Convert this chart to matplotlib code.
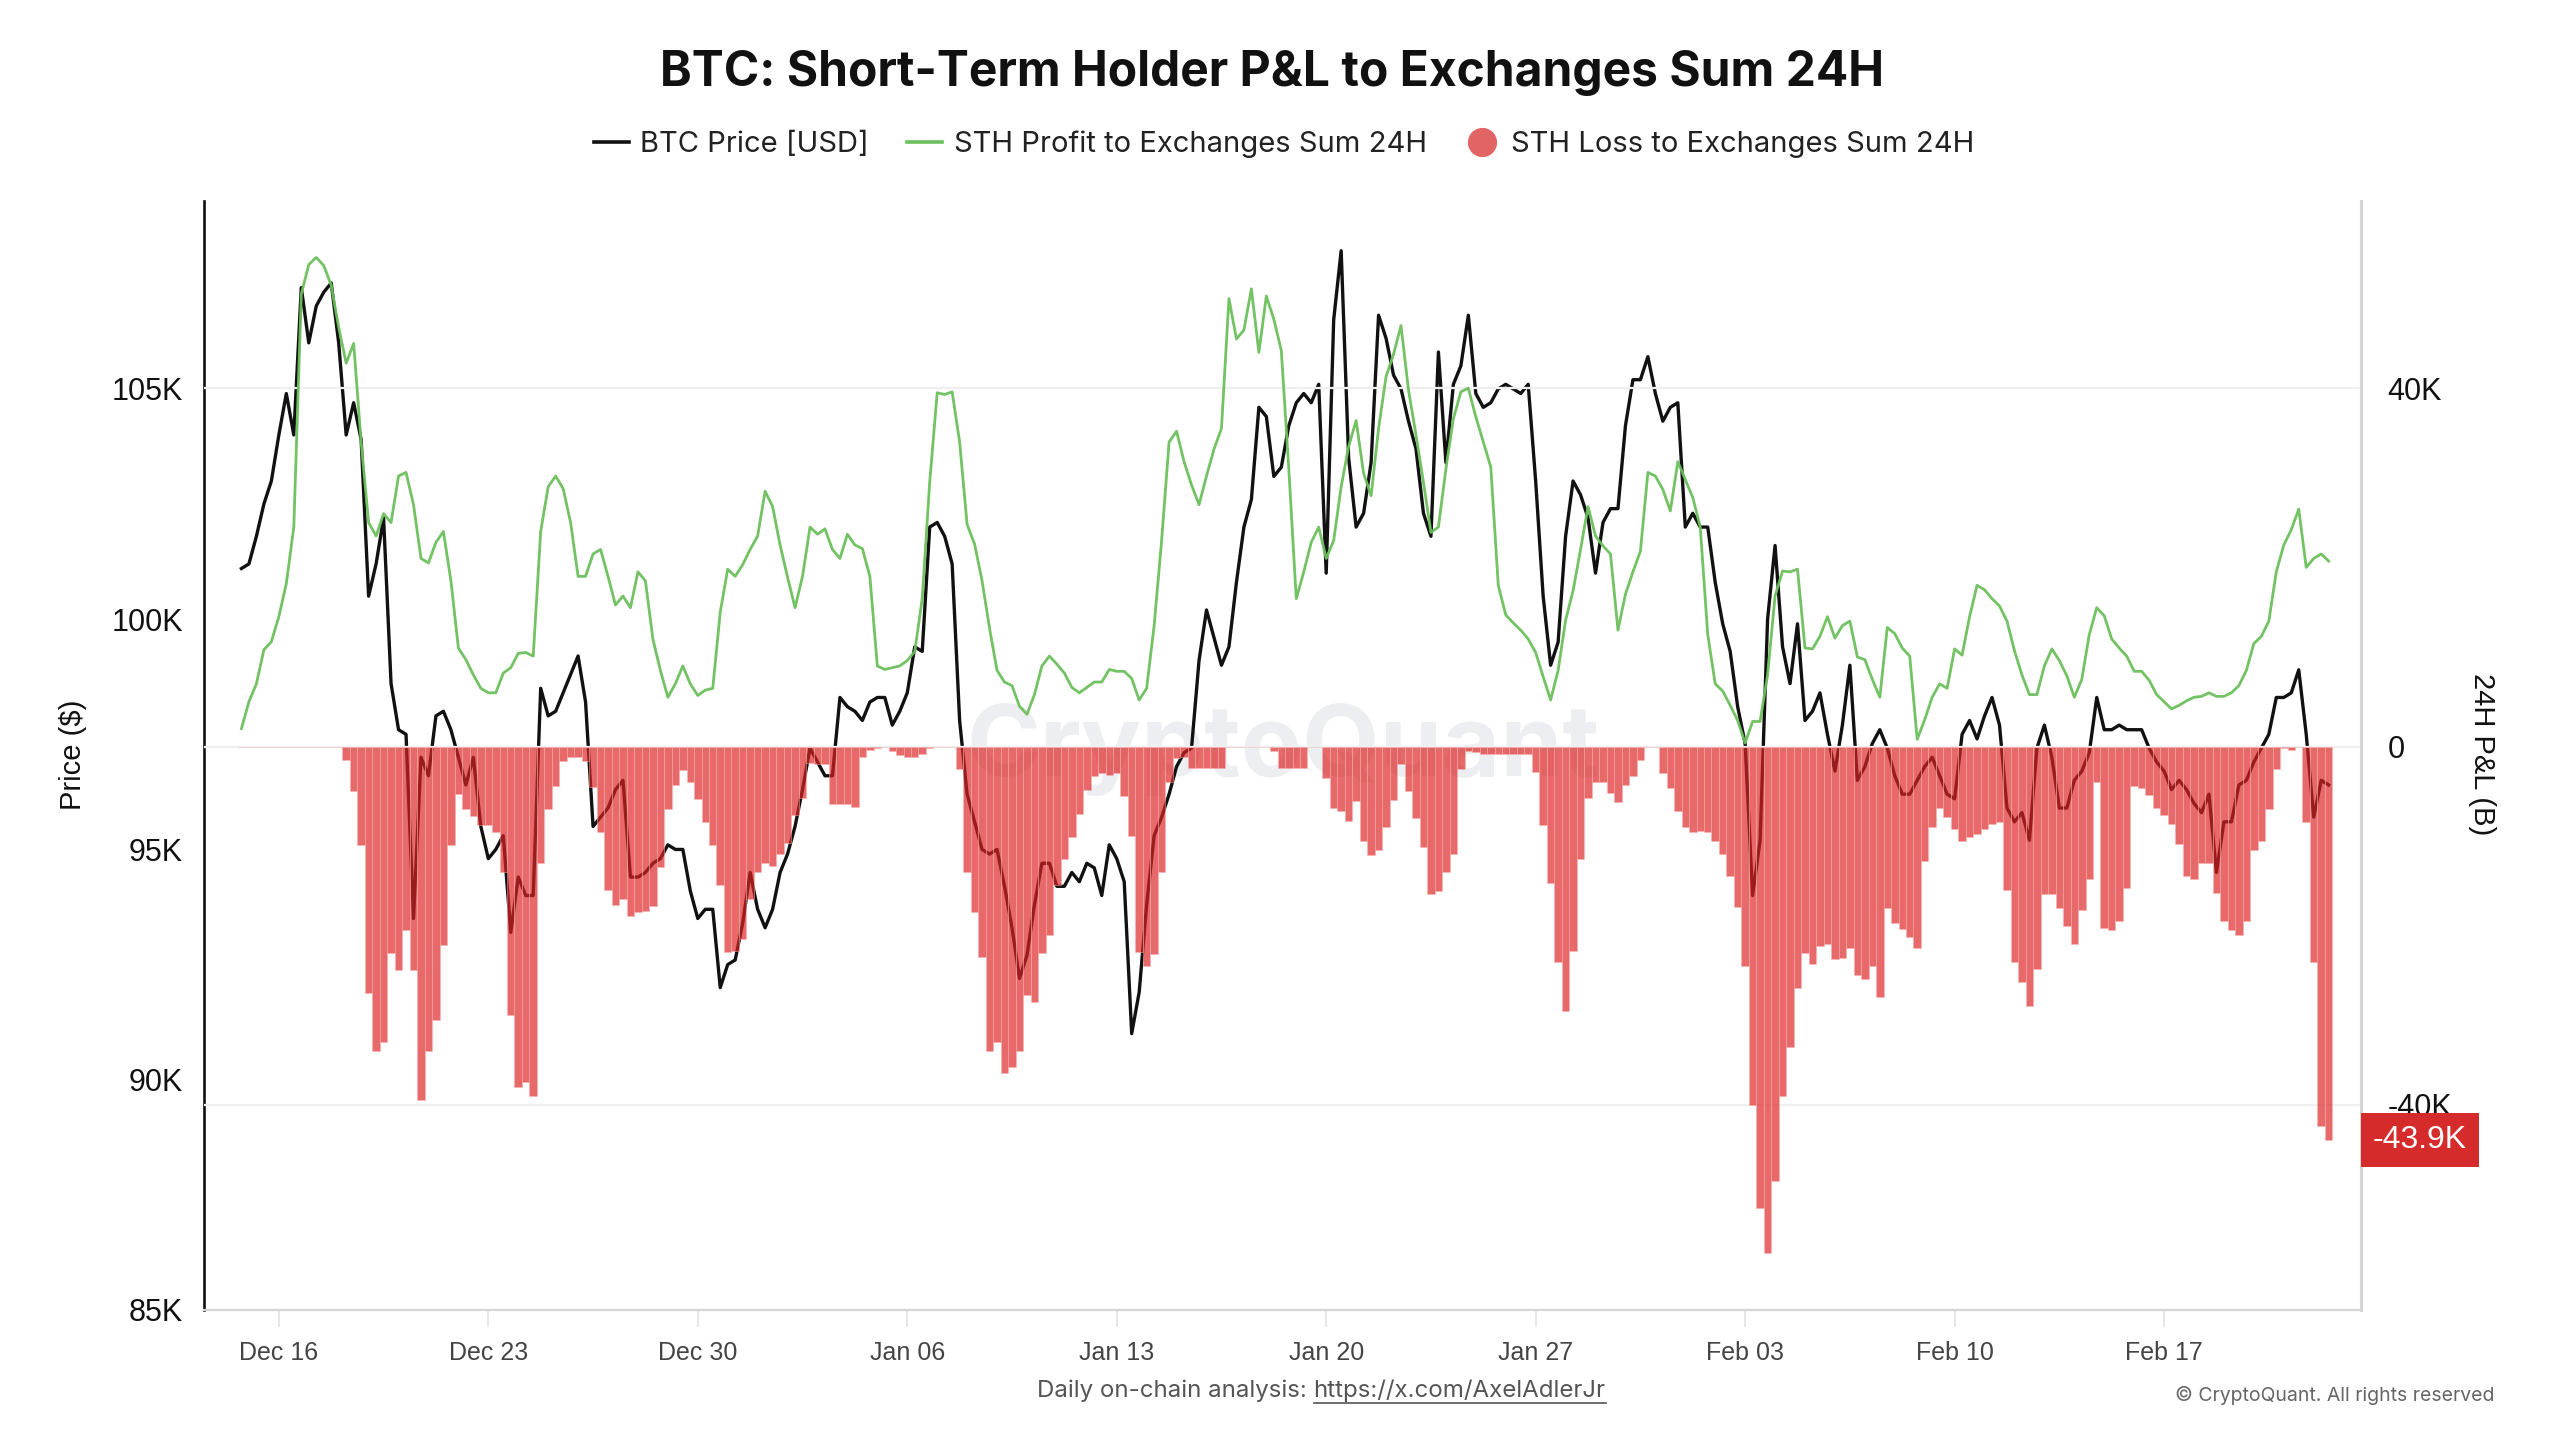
"""
BTC: Short-Term Holder P&L to Exchanges Sum 24H  (recreation)

Run:
    python3 plot.py   ->  out.png (2560x1440)
"""

import numpy as np
import pandas as pd
import matplotlib
import matplotlib.pyplot as plt
import matplotlib.dates as mdates
from matplotlib.lines import Line2D
from matplotlib.transforms import blended_transform_factory

matplotlib.use("Agg")

# ============================================================
# Data (6-hourly; values in thousands)
# ============================================================
START = "2024-12-14 18:00"
STEP = "6h"

price_k = [
    101.1, 101.2, 101.8, 102.5, 103.0, 104.0, 104.9, 104.0, 107.2, 106.0,
    106.8, 107.1, 107.3, 106.0, 104.0, 104.7, 103.9, 100.5, 101.2, 102.2,
    98.6, 97.6, 97.5, 93.5, 97.0, 96.6, 97.9, 98.0, 97.6, 97.0,
    96.4, 97.0, 95.5, 94.8, 95.0, 95.3, 93.2, 94.4, 94.0, 94.0,
    98.5, 97.9, 98.0, 98.4, 98.8, 99.2, 98.2, 95.5, 95.7, 95.9,
    96.3, 96.5, 94.4, 94.4, 94.5, 94.7, 94.8, 95.1, 95.0, 95.0,
    94.1, 93.5, 93.7, 93.7, 92.0, 92.5, 92.6, 93.4, 94.5, 93.7,
    93.3,
    93.7, 94.5, 94.9, 95.5, 96.3, 97.2, 96.9, 96.6, 96.6, 98.3,
    98.1, 98.0, 97.8, 98.2, 98.3, 98.3, 97.7, 98.0, 98.4, 99.4,
    99.3, 102.0, 102.1, 101.8, 101.2, 97.8, 96.2, 95.6, 95.0, 94.9,
    95.0, 94.2, 93.3, 92.2, 92.7, 93.8, 94.7, 94.7, 94.2, 94.2,
    94.5, 94.3, 94.7, 94.6, 94.0, 95.1, 94.8, 94.3, 91.0, 91.9,
    93.8, 95.3, 95.7, 96.2, 96.8, 97.1, 97.2, 99.1, 100.2, 99.6,
    99.0, 99.4, 100.8, 102.0, 102.6, 104.6, 104.4, 103.1, 103.3, 104.2,
    104.7,
    104.9, 104.7, 105.1, 101.0, 106.5, 108.0, 103.5, 102.0, 102.3, 103.4,
    106.6, 106.1, 105.3, 105.0, 104.3, 103.7, 102.3, 101.8, 105.8, 103.4,
    105.1, 105.5, 106.6, 104.9, 104.6, 104.7, 105.0, 105.1, 105.0, 104.9,
    105.1, 103.0, 100.5, 99.0, 99.5, 101.8, 103.0, 102.7, 102.2, 101.0,
    102.1, 102.4, 102.4, 104.2, 105.2, 105.2, 105.7, 104.9, 104.3, 104.6,
    104.7, 102.0, 102.3, 102.0, 102.0, 100.8, 99.9, 99.3, 98.1, 97.3,
    94.0, 95.2, 100.0, 101.6, 99.4, 98.6, 99.9, 97.8, 98.0, 98.4,
    97.5,
    96.7, 97.7, 99.0, 96.5, 96.8, 97.3, 97.6, 97.2, 96.6, 96.2,
    96.2, 96.5, 96.8, 97.0, 96.6, 96.2, 96.1, 97.5, 97.8, 97.4,
    97.9, 98.3, 97.7, 95.9, 95.6, 95.8, 95.2, 97.2, 97.7, 97.0,
    95.9, 95.9, 96.5, 96.7, 97.1, 98.3, 97.6, 97.6, 97.7, 97.6,
    97.6, 97.6, 97.2, 96.9, 96.7, 96.3, 96.5, 96.3, 96.0, 95.8,
    96.2, 94.5, 95.6, 95.6, 96.4, 96.5, 96.9, 97.2, 97.5, 98.3,
    98.3, 98.4, 98.9, 97.5, 95.7, 96.5, 96.4,
]

profit_k = [
    2.0, 5.0, 7.0, 10.8, 11.7, 14.5, 18.2, 24.5, 50.5, 53.8,
    54.6, 53.7, 51.5, 46.8, 42.8, 45.0, 34.0, 25.0, 23.5, 26.0,
    25.0, 30.2, 30.6, 27.0, 21.0, 20.5, 22.8, 24.0, 18.5, 11.0,
    9.7, 8.0, 6.5, 6.0, 6.0, 8.2, 8.8, 10.4, 10.5, 10.1,
    24.0, 29.0, 30.2, 28.8, 25.0, 19.0, 19.0, 21.5, 22.0, 19.0,
    15.8, 16.8, 15.5, 19.5, 18.5, 12.0, 8.5, 5.5, 7.0, 9.0,
    7.0, 5.7, 6.3, 6.5, 15.0, 19.8, 19.0, 20.3, 22.0, 23.5,
    28.5,
    26.8, 22.5, 18.9, 15.5, 19.0, 24.5, 23.7, 24.3, 22.0, 21.0,
    23.7, 22.5, 22.1, 19.0, 9.0, 8.6, 8.8, 9.0, 9.6, 10.6,
    16.5, 29.5, 39.5, 39.3, 39.6, 34.0, 24.8, 22.6, 18.5, 13.2,
    8.5, 7.2, 6.8, 4.5, 3.6, 5.8, 9.0, 10.1, 9.2, 8.2,
    6.6, 6.0, 6.6, 7.2, 7.2, 8.6, 8.4, 8.4, 7.6, 5.2,
    6.5, 13.5, 23.0, 34.0, 35.2, 31.8, 29.2, 27.0, 30.2, 33.2,
    35.5, 50.0, 45.5, 46.5, 51.1, 44.0, 50.3, 47.7, 44.2, 31.0,
    16.5,
    19.5, 22.8, 24.5, 21.0, 23.0, 29.0, 33.5, 36.4, 30.5, 28.0,
    35.5, 41.3, 43.8, 47.0, 39.8, 34.8, 29.5, 23.9, 24.5, 31.0,
    36.6, 39.6, 40.0, 36.8, 34.0, 31.2, 18.0, 14.7, 13.8, 13.0,
    12.0, 10.5, 7.8, 5.2, 8.5, 14.1, 17.4, 22.0, 26.8, 23.5,
    22.4, 21.5, 13.0, 17.0, 19.5, 21.8, 30.6, 30.2, 28.7, 26.3,
    31.8, 29.8, 27.8, 24.5, 12.5, 7.0, 6.2, 4.6, 2.9, 0.4,
    2.8, 2.8, 8.0, 16.8, 19.6, 19.5, 19.8, 11.0, 10.9, 12.3,
    14.5,
    12.1, 13.5, 14.0, 10.0, 9.7, 7.5, 5.5, 13.3, 12.6, 11.0,
    10.1, 0.8, 3.0, 5.5, 7.0, 6.5, 10.9, 10.2, 14.5, 18.0,
    17.5, 16.5, 15.7, 14.0, 10.7, 8.0, 5.8, 5.8, 9.0, 10.9,
    9.6, 7.9, 5.5, 7.5, 12.5, 15.5, 14.6, 12.0, 11.0, 10.1,
    8.4, 8.4, 7.4, 5.8, 5.0, 4.2, 4.6, 5.1, 5.5, 5.6,
    6.0, 5.6, 5.6, 6.0, 6.8, 8.5, 11.5, 12.3, 14.0, 19.5,
    22.5, 24.2, 26.5, 20.0, 21.0, 21.5, 20.7,
]

loss_k = [
    -0.1, -0.1, -0.1, -0.1, -0.1, -0.1, 0.0, 0.0, 0.0, 0.0,
    0.0, 0.0, 0.0, 0.0, -1.5, -5.0, -11.0, -27.5, -34.0, -33.0,
    -23.0, -25.0, -20.5, -25.0, -39.5, -34.0, -30.5, -22.1, -11.0, -5.3,
    -7.0, -7.8, -8.8, -8.8, -9.5, -14.0, -30.0, -38.0, -37.5, -39.0,
    -13.0, -7.0, -4.4, -1.6, -1.2, -1.2, -1.6, -4.5, -9.5, -16.0,
    -17.7, -17.0, -18.9, -18.5, -18.4, -17.8, -13.5, -7.0, -4.3, -2.6,
    -4.0, -5.9, -8.4, -11.0, -15.5, -22.9, -22.8, -21.5, -17.0, -14.0,
    -13.0,
    -13.3, -12.0, -10.8, -7.6, -5.8, -1.8, -2.0, -2.0, -6.4, -6.4,
    -6.4, -6.8, -1.2, -0.4, -0.2, 0.0, -0.5, -0.9, -1.2, -1.2,
    -0.8, -0.2, -0.1, 0.0, 0.0, -2.5, -14.0, -18.5, -23.5, -34.0,
    -33.0, -36.5, -35.8, -34.0, -27.7, -28.5, -23.0, -21.0, -15.5, -12.5,
    -10.1, -7.5, -4.8, -3.3, -2.9, -3.2, -3.0, -5.5, -10.0, -22.9,
    -24.5, -23.2, -14.0, -4.0, -1.3, -1.2, -2.4, -2.4, -2.4, -2.4,
    -2.4, 0.0, 0.0, 0.0, 0.0, 0.0, 0.0, -0.5, -2.4, -2.4,
    -2.4,
    -2.4, 0.0, 0.0, -3.5, -6.9, -7.2, -8.3, -6.1, -10.5, -12.1,
    -11.5, -9.0, -6.0, -2.0, -5.0, -8.0, -11.2, -16.5, -16.1, -14.0,
    -12.0, -2.5, -0.5, -0.6, -0.8, -0.8, -0.8, -0.8, -0.8, -0.8,
    -0.8, -2.8, -8.8, -15.2, -24.0, -29.5, -22.8, -12.5, -5.8, -4.0,
    -4.0, -5.2, -6.2, -4.3, -3.3, -1.5, 0.0, 0.0, -3.0, -4.6,
    -7.2, -9.0, -9.5, -9.4, -9.5, -10.5, -12.0, -14.5, -17.9, -24.5,
    -40.0, -51.5, -56.5, -48.5, -39.0, -33.5, -27.0, -23.0, -24.3, -22.3,
    -22.0,
    -23.7, -23.6, -22.5, -25.5, -26.0, -24.5, -28.0, -18.0, -19.7, -20.4,
    -21.3, -22.5, -12.8, -9.0, -6.9, -7.9, -9.2, -10.5, -10.1, -9.8,
    -9.2, -8.7, -8.4, -16.0, -24.0, -26.3, -29.0, -24.8, -16.5, -16.5,
    -18.0, -20.0, -22.0, -18.2, -14.8, -4.0, -20.3, -20.5, -19.5, -15.8,
    -4.4, -4.6, -5.4, -6.9, -7.6, -8.6, -10.9, -14.5, -14.8, -13.0,
    -13.0, -16.3, -19.5, -20.5, -21.0, -19.5, -11.6, -10.5, -7.0, -2.5,
    -0.2, -0.4, -0.1, -8.4, -24.0, -42.4, -43.9,
]

price_ticks = [85000, 90000, 95000, 100000, 105000]
price_tick_labels = ["85K", "90K", "95K", "100K", "105K"]
pnl_ticks = [-40000, 0, 40000]
pnl_tick_labels = ["-40K", "0", "40K"]
last_loss_label = "-43.9K"

# ============================================================
# Style
# ============================================================
C_PRICE = "#111111"
C_PROFIT = "#6bbf5c"
C_LOSS = "#dc2222"
C_LOSS_LEG = "#e36464"
C_BADGE = "#d52b2b"
C_GRID = "#efefef"
C_AXIS = "#d6d6d6"

plt.rcParams["font.family"] = ["Liberation Sans", "DejaVu Sans"]
TITLE_FONT = ["Inter", "DejaVu Sans"]


def main():
    times = pd.date_range(START, periods=len(price_k), freq=STEP)
    price = np.array(price_k) * 1000.0
    profit = np.array(profit_k) * 1000.0
    loss = np.array(loss_k) * 1000.0

    fig = plt.figure(figsize=(25.6, 14.4), dpi=100)
    ax1 = fig.add_axes([0.0797, 0.0903, 0.8426, 0.7701])
    ax2 = ax1.twinx()

    # --- price (left axis) ---
    ax1.plot(times, price, color=C_PRICE, lw=2.4, zorder=2)
    ax1.set_ylim(85000, 109080)
    ax1.set_yticks(price_ticks)
    ax1.set_yticklabels(price_tick_labels)
    ax1.tick_params(axis="y", length=0, pad=15, labelsize=22,
                    labelcolor="#111111")

    # watermark
    ax1.text(0.5, 0.505, "CryptoQuant", transform=ax1.transAxes,
             ha="center", va="center", fontsize=72, fontweight="bold",
             family=TITLE_FONT, color="#e2e4e8", alpha=0.6, zorder=0)

    # --- STH P&L (right axis) ---
    ax2.set_axisbelow(True)
    ax2.yaxis.grid(True, color=C_GRID, lw=1.6)
    ax2.bar(times, loss, width=0.25, color=C_LOSS, alpha=0.68,
            edgecolor="#f4b4b4", linewidth=0.5, zorder=2)
    ax2.plot(times, profit, color=C_PROFIT, lw=2.0, alpha=0.95, zorder=3)
    ax2.set_ylim(-62900, 60900)
    ax2.set_yticks(pnl_ticks)
    ax2.set_yticklabels(pnl_tick_labels)
    ax2.tick_params(axis="y", length=0, pad=19, labelsize=22,
                    labelcolor="#111111")

    # badge with the last value
    trans = blended_transform_factory(ax2.transAxes, ax2.transData)
    ax2.text(1.0055, loss[-1], last_loss_label, transform=trans,
             ha="left", va="center", fontsize=23, color="white",
             bbox=dict(boxstyle="square,pad=0.38", fc=C_BADGE, ec="none"),
             clip_on=False, zorder=10)

    # --- x axis ---
    ax1.set_xlim(pd.Timestamp("2024-12-13 12:00"),
                 pd.Timestamp("2025-02-23 14:00"))
    ax1.xaxis.set_major_locator(mdates.WeekdayLocator(byweekday=mdates.MO))
    ax1.xaxis.set_major_formatter(mdates.DateFormatter("%b %d"))
    ax1.tick_params(axis="x", length=12, width=1.2, color="#e3e3e3",
                    pad=10, labelsize=18, labelcolor="#444444")

    # --- spines ---
    for side in ["top", "right"]:
        ax1.spines[side].set_visible(False)
    ax1.spines["left"].set_color("#111111")
    ax1.spines["left"].set_linewidth(1.9)
    ax1.spines["bottom"].set_color(C_AXIS)
    ax1.spines["bottom"].set_linewidth(1.6)
    for side in ["top", "left", "bottom"]:
        ax2.spines[side].set_visible(False)
    ax2.spines["right"].set_color(C_AXIS)
    ax2.spines["right"].set_linewidth(2.2)

    # --- axis labels ---
    fig.text(73 / 2560, 0.476, "Price ($)", rotation=90, ha="center",
             va="center", fontsize=21, color="#111111")
    fig.text(2482 / 2560, 0.476, "24H P&L (B)", rotation=270, ha="center",
             va="center", fontsize=21, color="#111111")

    # --- title & legend ---
    fig.text(0.497, 0.949, "BTC: Short-Term Holder P&L to Exchanges Sum 24H",
             ha="center", va="center", fontsize=34.5, fontweight="bold",
             family=TITLE_FONT, color="#111111")

    handles = [
        Line2D([], [], color=C_PRICE, lw=2.6),
        Line2D([], [], color=C_PROFIT, lw=2.6),
        Line2D([], [], color=C_LOSS_LEG, marker="o", linestyle="None",
               markersize=20),
    ]
    labels = ["BTC Price [USD]", "STH Profit to Exchanges Sum 24H",
              "STH Loss to Exchanges Sum 24H"]
    fig.legend(handles, labels, loc="center", bbox_to_anchor=(0.5016, 0.9),
               ncol=3, frameon=False, handlelength=1.2, handletextpad=0.4,
               columnspacing=1.3, prop={"family": TITLE_FONT, "size": 21},
               labelcolor="#222222")

    # --- footer ---
    t1 = fig.text(1037 / 2560, 0.034, "Daily on-chain analysis: ",
                  ha="left", va="center", fontsize=17.3, color="#555555",
                  family=TITLE_FONT)
    fig.canvas.draw()
    r = fig.canvas.get_renderer()
    bb1 = t1.get_window_extent(renderer=r)
    t2 = fig.text(bb1.x1 / 2560, 0.034, "https://x.com/AxelAdlerJr",
                  ha="left", va="center", fontsize=17.3, color="#555555",
                  family=TITLE_FONT)
    bb2 = t2.get_window_extent(renderer=r)
    y_ul = (bb2.y0 - 1) / 1440
    fig.add_artist(Line2D([bb2.x0 / 2560, bb2.x1 / 2560], [y_ul, y_ul],
                          color="#555555", lw=1.2,
                          transform=fig.transFigure))

    fig.text(0.9746, 0.0306, "\u00a9 CryptoQuant. All rights reserved",
             ha="right", va="center", fontsize=14, color="#666666",
             family=TITLE_FONT)

    fig.savefig("out.png", dpi=100, facecolor="white")
    plt.close(fig)


if __name__ == "__main__":
    main()
